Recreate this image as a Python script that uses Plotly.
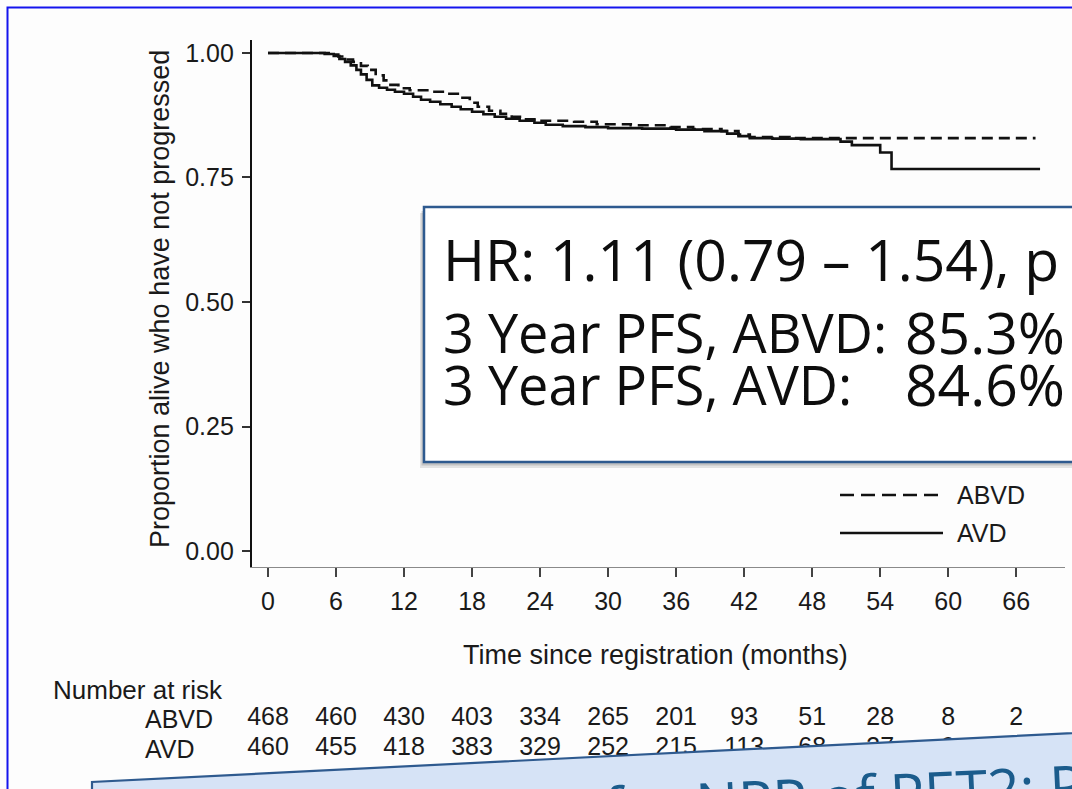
import plotly.graph_objects as go

W, H = 1072, 789

# ---------------- data ----------------
abvd_t = [0, 5.5, 6.2, 6.8, 7.5, 8.2, 8.8, 9.5, 10.2, 10.8, 11.5, 12.5, 14.5, 16.0, 17.0, 17.8,
          18.5, 19.5, 20.5, 21.5, 22.5, 24.0, 27.0, 29.0, 32.0, 35.5, 37.5, 40.0, 41.5, 42.5, 46.0, 67.7]
abvd_s = [1.0, 0.997, 0.993, 0.987, 0.982, 0.974, 0.966, 0.955, 0.945, 0.936, 0.929, 0.925, 0.922,
          0.918, 0.910, 0.900, 0.892, 0.884, 0.878, 0.872, 0.867, 0.864, 0.862, 0.857, 0.855, 0.851,
          0.847, 0.843, 0.836, 0.831, 0.829, 0.829]

avd_t = [0, 5.0, 5.8, 6.3, 6.8, 7.3, 7.8, 8.2, 8.7, 9.2, 9.8, 10.5, 11.2, 12.0, 12.8, 13.5, 14.3,
         15.2, 16.2, 17.0, 18.0, 19.0, 20.0, 21.0, 22.2, 23.5, 24.5, 26.0, 28.0, 30.0, 33.0, 36.0,
         38.5, 40.5, 41.5, 42.5, 44.5, 47.0, 50.5, 51.5, 54.0, 55.0, 68.1]
avd_s = [1.0, 0.998, 0.994, 0.988, 0.982, 0.975, 0.966, 0.957, 0.946, 0.935, 0.930, 0.926, 0.922,
         0.918, 0.912, 0.906, 0.902, 0.897, 0.892, 0.887, 0.882, 0.877, 0.872, 0.868, 0.864, 0.860,
         0.856, 0.853, 0.851, 0.849, 0.848, 0.846, 0.843, 0.838, 0.833, 0.829, 0.828, 0.827, 0.822,
         0.815, 0.800, 0.767, 0.767]

risk_times = [0, 6, 12, 18, 24, 30, 36, 42, 48, 54, 60, 66]
risk_abvd = [468, 460, 430, 403, 334, 265, 201, 93, 51, 28, 8, 2]
risk_avd = [460, 455, 418, 383, 329, 252, 215, 113, 68, 37, 9, 3]

y_ticks = [0, 0.25, 0.5, 0.75, 1.0]
y_ticktext = ["0.00", "0.25", "0.50", "0.75", "1.00"]
x_ticks = [0, 6, 12, 18, 24, 30, 36, 42, 48, 54, 60, 66]

box_labels = ["HR: 1.11 (0.79 \u2013 1.54), p", "3 Year PFS, ABVD:", "3 Year PFS, AVD:"]
box_values = ["", "85.3%", "84.6%"]
banner_text = "Results for NPP of PET2: PFS"

# ---------------- helpers ----------------
def px(x):
    return x / W

def py(y):
    return 1 - y / H

XDOM = [px(252), px(1065)]
YDOM = [py(567), py(40)]
XR = [-1.41, 70.3]
YR = [-0.032, 1.026]

SANS = "Liberation Sans, Arial, sans-serif"
TXT = "#1a1a1a"

fig = go.Figure()

fig.add_trace(go.Scatter(x=abvd_t, y=abvd_s, mode="lines", line_shape="hv",
                         line=dict(color="#111111", width=2.6, dash="11px,6px"),
                         name="ABVD", showlegend=False, hoverinfo="skip"))
fig.add_trace(go.Scatter(x=avd_t, y=avd_s, mode="lines", line_shape="hv",
                         line=dict(color="#111111", width=2.6),
                         name="AVD", showlegend=False, hoverinfo="skip"))

# number-at-risk rows: text traces on a hidden pixel-scaled axis (so the banner can cover them)
fig.add_trace(go.Scatter(x=risk_times, y=[719] * len(risk_times), mode="text", yaxis="y2",
                         text=[str(v) for v in risk_abvd], cliponaxis=False,
                         textfont=dict(family=SANS, size=25, color=TXT),
                         showlegend=False, hoverinfo="skip"))
fig.add_trace(go.Scatter(x=risk_times, y=[749] * len(risk_times), mode="text", yaxis="y2",
                         text=[str(v) for v in risk_avd], cliponaxis=False,
                         textfont=dict(family=SANS, size=25, color=TXT),
                         showlegend=False, hoverinfo="skip"))

shapes = []
# page blue border
shapes.append(dict(type="rect", xref="paper", yref="paper", x0=px(7.5), x1=px(1100),
                   y0=py(800), y1=py(7.5), line=dict(color="#1414EE", width=2), layer="below"))
# legend samples
shapes.append(dict(type="line", xref="paper", yref="paper", x0=px(840), x1=px(943),
                   y0=py(495), y1=py(495), line=dict(color="#111", width=2.4, dash="14px,7px"),
                   layer="above"))
shapes.append(dict(type="line", xref="paper", yref="paper", x0=px(840), x1=px(943),
                   y0=py(533), y1=py(533), line=dict(color="#111", width=2.4), layer="above"))
# text box shadow + box
shapes.append(dict(type="rect", xref="paper", yref="paper", x0=px(420), x1=px(1100),
                   y0=py(468), y1=py(213), fillcolor="rgba(0,0,0,0.10)", line=dict(width=0),
                   layer="above"))
shapes.append(dict(type="rect", xref="paper", yref="paper", x0=px(421.5), x1=px(1100),
                   y0=py(465.5), y1=py(211), fillcolor="rgba(0,0,0,0.14)", line=dict(width=0),
                   layer="above"))
shapes.append(dict(type="rect", xref="paper", yref="paper", x0=px(424), x1=px(1100),
                   y0=py(462), y1=py(207), fillcolor="white",
                   line=dict(color="#2E5A8F", width=2.5), layer="above"))
# bottom banner (tilted)
shapes.append(dict(type="path", xref="paper", yref="paper",
                   path=f"M {px(92)},{py(830)} L {px(92)},{py(782)} L {px(1120)},{py(730.7)} "
                        f"L {px(1120)},{py(830)} Z",
                   fillcolor="#D6E3F6", line=dict(color="#2E5A8F", width=2.2), layer="above"))

ann = []
# axis titles
ann.append(dict(text="Proportion alive who have not progressed", xref="paper", yref="paper",
                x=px(160), y=py(299), textangle=-90, showarrow=False,
                font=dict(family=SANS, size=27, color=TXT), xanchor="center", yanchor="middle"))
ann.append(dict(text="Time since registration (months)", xref="paper", yref="paper",
                x=px(655), y=py(655), showarrow=False,
                font=dict(family=SANS, size=27, color=TXT), xanchor="center", yanchor="middle"))
ann.append(dict(text="Number at risk", xref="paper", yref="paper", x=px(51), y=py(690),
                showarrow=False, font=dict(family=SANS, size=26, color=TXT),
                xanchor="left", yanchor="middle"))
ann.append(dict(text="ABVD", xref="paper", yref="paper", x=px(143), y=py(719),
                showarrow=False, font=dict(family=SANS, size=25, color=TXT),
                xanchor="left", yanchor="middle"))
ann.append(dict(text="AVD", xref="paper", yref="paper", x=px(143), y=py(749),
                showarrow=False, font=dict(family=SANS, size=25, color=TXT),
                xanchor="left", yanchor="middle"))
# legend labels
ann.append(dict(text="ABVD", xref="paper", yref="paper", x=px(955), y=py(495),
                showarrow=False, font=dict(family=SANS, size=25, color=TXT),
                xanchor="left", yanchor="middle"))
ann.append(dict(text="AVD", xref="paper", yref="paper", x=px(955), y=py(533),
                showarrow=False, font=dict(family=SANS, size=25, color=TXT),
                xanchor="left", yanchor="middle"))
# box text
for i, (lab, val, yc) in enumerate(zip(box_labels, box_values, [259, 332, 384])):
    size = 57 if i == 0 else 54
    ann.append(dict(text=lab, xref="paper", yref="paper", x=px(441), y=py(yc),
                    showarrow=False, font=dict(family="Open Sans", size=size, color="#0d0d0d"),
                    xanchor="left", yanchor="middle"))
    if val:
        ann.append(dict(text=val, xref="paper", yref="paper", x=px(903), y=py(yc),
                        showarrow=False, font=dict(family="Open Sans", size=57, color="#0d0d0d"),
                        xanchor="left", yanchor="middle"))
# banner text
ann.append(dict(text=banner_text, xref="paper", yref="paper", x=px(771), y=py(799),
                showarrow=False, textangle=-2.75,
                font=dict(family="Open Sans", size=57, color="#1B5C8C"),
                xanchor="center", yanchor="middle"))

fig.update_layout(
    width=W, height=H, autosize=False,
    margin=dict(l=0, r=0, t=0, b=0),
    paper_bgcolor="#FDFDFD", plot_bgcolor="#FDFDFD",
    showlegend=False,
    shapes=shapes, annotations=ann,
    xaxis=dict(domain=XDOM, range=XR, showgrid=False, zeroline=False,
               showline=True, linecolor="#8a8a8a", linewidth=1.2,
               ticks="outside", ticklen=9, tickwidth=1.6, tickcolor="#444",
               tickvals=x_ticks, ticklabelstandoff=3,
               tickfont=dict(family=SANS, size=25, color=TXT)),
    yaxis=dict(domain=YDOM, range=YR, showgrid=False, zeroline=False,
               showline=True, linecolor="#111", linewidth=2.2,
               ticks="outside", ticklen=8, tickwidth=1.6, tickcolor="#333",
               tickvals=y_ticks, ticktext=y_ticktext, ticklabelstandoff=3,
               tickfont=dict(family=SANS, size=25, color=TXT)),
    yaxis2=dict(domain=[0, py(585)], range=[H, 585], autorange=False, visible=False,
                anchor="x", showgrid=False, zeroline=False),
)

fig.write_html("out.html", config={"displayModeBar": False},
               post_script="document.body.style.margin='0px';")
